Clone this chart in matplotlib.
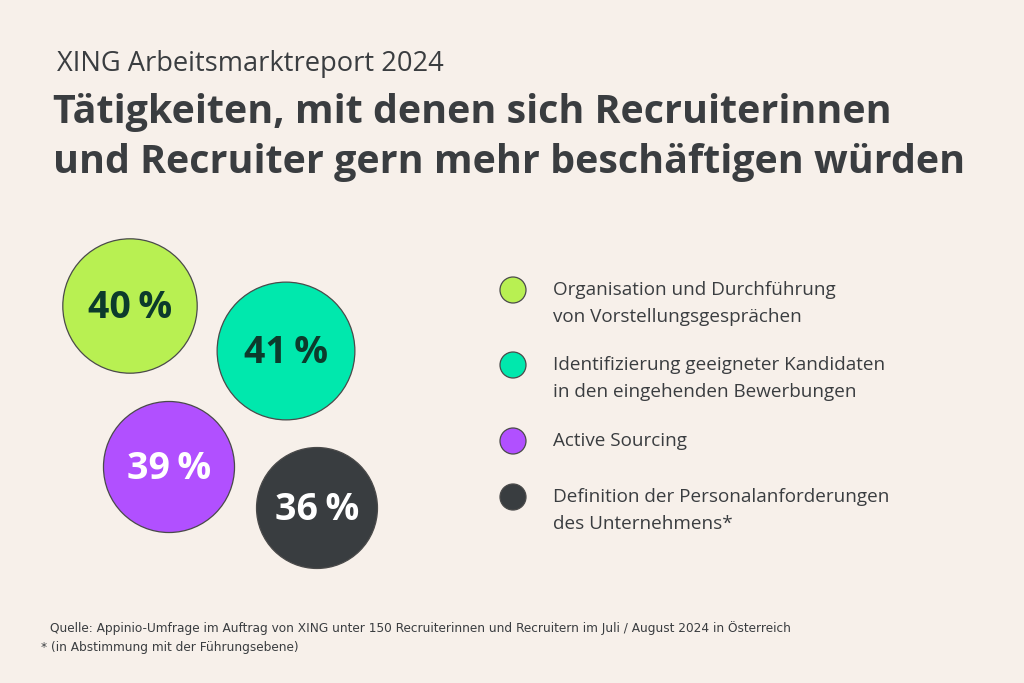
import matplotlib.pyplot as plt
from matplotlib.patches import Circle

# data
categories = [
    "Organisation und Durchführung\nvon Vorstellungsgesprächen",
    "Identifizierung geeigneter Kandidaten\nin den eingehenden Bewerbungen",
    "Active Sourcing",
    "Definition der Personalanforderungen\ndes Unternehmens*",
]
values = [40, 41, 39, 36]
colors = ["#b8f052", "#00e8ad", "#b150ff", "#393d40"]
label_colors = ["#0c3b2c", "#0c3b2c", "#ffffff", "#ffffff"]

# layout (pixels, origin top left)
bubble_pos = [(130, 306), (286, 351), (169, 467), (317, 508)]
px_per_pct = 1.68
legend_y = [290, 365, 441, 497]

BG = "#f7f0ea"
TXT = "#3a3d40"
FONT = ["Open Sans", "DejaVu Sans"]

fig = plt.figure(figsize=(10.24, 6.83), dpi=100, facecolor=BG)
ax = fig.add_axes([0, 0, 1, 1])
ax.set_xlim(0, 1024)
ax.set_ylim(683, 0)
ax.axis("off")
ax.set_facecolor(BG)

ax.text(57, 64, "XING Arbeitsmarktreport 2024", fontsize=19.6, color=TXT,
        family=FONT, va="center")
ax.text(53, 112, "Tätigkeiten, mit denen sich Recruiterinnen", fontsize=28.4,
        fontweight="bold", color=TXT, family=FONT, va="center")
ax.text(53, 163, "und Recruiter gern mehr beschäftigen würden", fontsize=28.4,
        fontweight="bold", color=TXT, family=FONT, va="center")

# bubbles
for (cx, cy), v, c, lc in zip(bubble_pos, values, colors, label_colors):
    ax.add_patch(Circle((cx, cy), v * px_per_pct, facecolor=c,
                        edgecolor="#4a4a4a", lw=0.9))
    ax.text(cx, cy + 2, f"{v}\u2009%", fontsize=27, fontweight="bold",
            color=lc, family=FONT, ha="center", va="center")

# legend
for y, lab, c in zip(legend_y, categories, colors):
    ax.add_patch(Circle((513, y), 13, facecolor=c, edgecolor="#4a4a4a", lw=0.9))
    for i, ln in enumerate(lab.split("\n")):
        ax.text(553, y + i * 27, ln, fontsize=13.6, color=TXT, family=FONT,
                va="center")

# footer
ax.text(50, 628, "Quelle: Appinio-Umfrage im Auftrag von XING unter 150 Recruiterinnen "
        "und Recruitern im Juli / August 2024 in Österreich", fontsize=9.7,
        color=TXT, family="DejaVu Sans", fontstretch="condensed", va="center")
ax.text(41, 647, "* (in Abstimmung mit der Führungsebene)", fontsize=9.7,
        color=TXT, family="DejaVu Sans", fontstretch="condensed", va="center")

fig.savefig("out.png", dpi=100, facecolor=BG)
